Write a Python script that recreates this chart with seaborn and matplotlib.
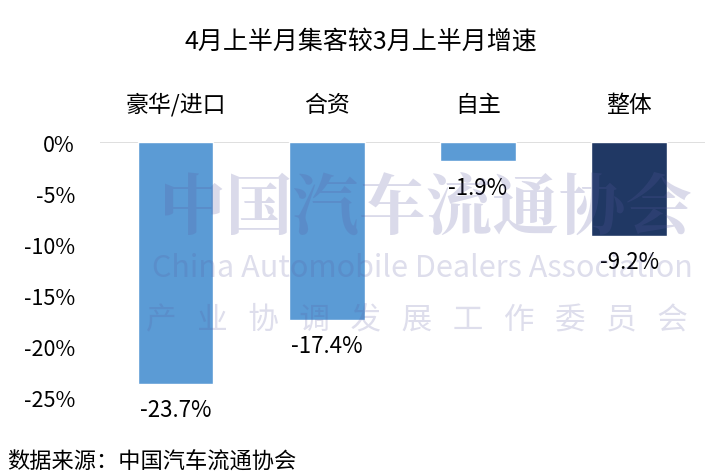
import numpy as np
import pandas as pd
import matplotlib.pyplot as plt
import seaborn as sns

categories = ['豪华/进口', '合资', '自主', '整体']
growth = [-23.7, -17.4, -1.9, -9.2]
bar_colors = ['#5B9BD5', '#5B9BD5', '#5B9BD5', '#203864']
yticks = [0, -5, -10, -15, -20, -25]

df = pd.DataFrame({'类别': categories, '增速': growth})

sns.set_theme(style='white')
plt.rcParams['font.family'] = ['Noto Sans CJK SC', 'DejaVu Sans']
plt.rcParams['axes.unicode_minus'] = False

fig = plt.figure(figsize=(7.22, 4.77), dpi=100)
ax = fig.add_axes([0.1385, 0.1656, 0.8375, 0.5345])

sns.barplot(data=df, x='类别', y='增速', hue='类别', palette=bar_colors,
            saturation=1, width=0.5, legend=False, ax=ax, zorder=2)

ax.set_ylim(-25, 0)
ax.set_yticks(yticks)
ax.set_yticklabels([f'{t}%' for t in yticks], fontsize=15.5, color='black')
ax.xaxis.tick_top()
ax.tick_params(axis='x', labelsize=16.5, pad=19, length=0, colors='black')
ax.tick_params(axis='y', length=0, pad=18)
ax.set_xlabel('')
ax.set_ylabel('')
for s in ax.spines.values():
    s.set_visible(False)
ax.axhline(0, color='#D9D9D9', lw=1.2, zorder=1)

for i, v in enumerate(growth):
    ax.text(i, v - 1.4, f'{v}%', ha='center', va='top', fontsize=16,
            color='black', clip_on=False, zorder=5)

# faint watermark
wm = '#5a5aa0'
fig.text(0.59, 0.56, '中国汽车流通协会', ha='center', va='center', fontsize=48,
         fontweight='bold', color=wm, alpha=0.22, zorder=10,
         family=['Noto Serif CJK SC', 'Noto Sans CJK SC'])
fig.text(0.585, 0.438, 'China Automobile Dealers Association', ha='center', va='center',
         fontsize=22, color=wm, alpha=0.2, zorder=10)
fig.text(0.578, 0.33, '产   业   协   调   发   展   工   作   委   员   会', ha='center',
         va='center', fontsize=22, color=wm, alpha=0.2, zorder=10)

fig.text(0.5, 0.912, '4月上半月集客较3月上半月增速', ha='center', va='center',
         fontsize=18, color='black')
fig.text(0.01, 0.032, '数据来源：中国汽车流通协会', ha='left', va='center',
         fontsize=16, color='black')

fig.savefig('out.png', dpi=100, facecolor='white')
